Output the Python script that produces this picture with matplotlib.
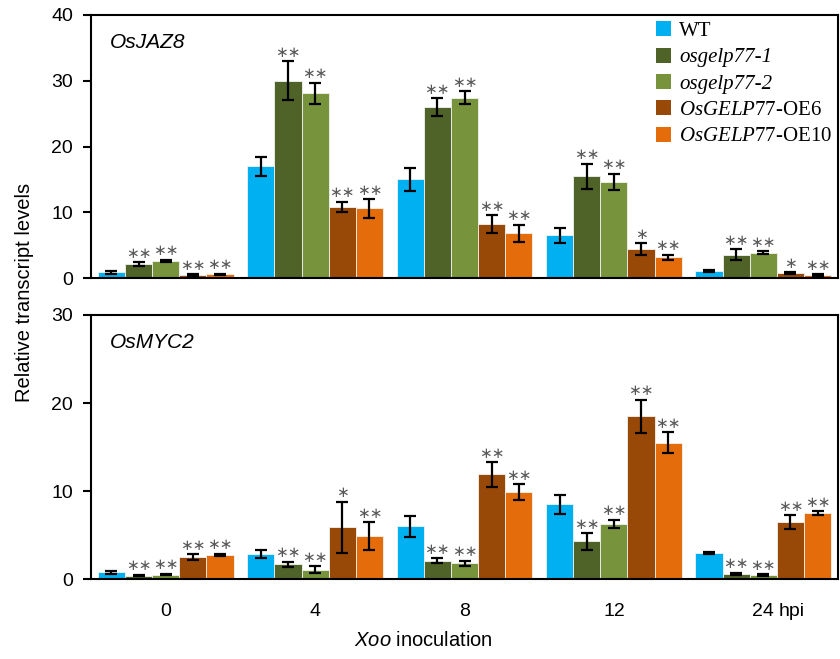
import matplotlib
matplotlib.use("Agg")
import matplotlib.pyplot as plt
import numpy as np

# ── DATA ─────────────────────────────────────────────────────────────────────
timepoints = ["0", "4", "8", "12", "24"]
lines = ["WT", "osgelp77-1", "osgelp77-2", "OsGELP77-OE6", "OsGELP77-OE10"]
legend_labels = ["WT", "osgelp77-1", "osgelp77-2",
                 r"$\mathit{OsGELP77}$-OE6", r"$\mathit{OsGELP77}$-OE10"]
colors = ["#00B0F0", "#4F6228", "#77933C", "#984807", "#E46C0A"]

# OsJAZ8: rows = lines, columns = timepoints
jaz8_mean = [
    [0.9, 17.0, 15.0, 6.5, 1.05],
    [2.1, 30.0, 26.0, 15.5, 3.6],
    [2.6, 28.1, 27.4, 14.6, 3.9],
    [0.5, 10.8, 8.2, 4.4, 0.75],
    [0.6, 10.6, 6.8, 3.2, 0.5],
]
jaz8_err = [
    [0.2, 1.45, 1.75, 1.2, 0.15],
    [0.3, 2.9, 1.35, 1.9, 0.8],
    [0.2, 1.6, 0.95, 1.25, 0.2],
    [0.1, 0.8, 1.35, 0.9, 0.15],
    [0.1, 1.4, 1.35, 0.4, 0.1],
]
jaz8_sig = [
    ["", "", "", "", ""],
    ["**", "**", "**", "**", "**"],
    ["**", "**", "**", "**", "**"],
    ["**", "**", "**", "*", "*"],
    ["**", "**", "**", "**", "**"],
]

# OsMYC2
myc2_mean = [
    [0.8, 2.9, 6.0, 8.5, 3.0],
    [0.42, 1.7, 2.1, 4.3, 0.6],
    [0.54, 1.1, 1.8, 6.3, 0.5],
    [2.5, 5.9, 11.9, 18.5, 6.5],
    [2.74, 4.9, 9.9, 15.5, 7.5],
]
myc2_err = [
    [0.15, 0.45, 1.2, 1.05, 0.1],
    [0.1, 0.3, 0.3, 0.95, 0.15],
    [0.1, 0.4, 0.3, 0.45, 0.1],
    [0.35, 2.9, 1.4, 1.9, 0.8],
    [0.15, 1.6, 0.9, 1.2, 0.25],
]
myc2_sig = [
    ["", "", "", "", ""],
    ["**", "**", "**", "**", "**"],
    ["**", "**", "**", "**", "**"],
    ["**", "*", "**", "**", "**"],
    ["**", "**", "**", "**", "**"],
]

# ── STYLE ────────────────────────────────────────────────────────────────────
plt.rcParams["font.family"] = ["Liberation Sans", "DejaVu Sans"]
plt.rcParams["mathtext.fontset"] = "custom"
plt.rcParams["mathtext.rm"] = "Liberation Serif"
plt.rcParams["mathtext.it"] = "Liberation Serif:italic"
plt.rcParams["mathtext.sf"] = "Liberation Sans:italic"

W, H = 840, 659
fig = plt.figure(figsize=(W / 100, H / 100), dpi=100)

ax_top = fig.add_axes([91 / W, 1 - 278.3 / H, 747 / W, 263.6 / H])
ax_bot = fig.add_axes([91 / W, 1 - 579.3 / H, 747 / W, 264.3 / H])

x = np.arange(len(timepoints))
bw = 0.182
offsets = (np.arange(len(lines)) - 2) * bw


def draw_panel(ax, means, errs, sigs, ymax, gene):
    for i, (m, e, s, c) in enumerate(zip(means, errs, sigs, colors)):
        xpos = x + offsets[i]
        ax.bar(xpos, m, width=bw, color=c, edgecolor="#f2f2f2",
               linewidth=0.6, label=legend_labels[i], zorder=2)
        ax.errorbar(xpos, m, yerr=e, fmt="none", ecolor="black",
                    elinewidth=1.6, capsize=4.3, capthick=1.6, zorder=3)
        for xp, mv, ev, st in zip(xpos, m, e, s):
            if st:
                ax.annotate(st.replace("*", "\u2217"), xy=(xp, mv + ev),
                            xytext=(0, 1), textcoords="offset points",
                            ha="center", va="bottom", fontsize=11,
                            color="#595959", family="DejaVu Sans", zorder=4)
    ax.set_xlim(-0.5, 4.5)
    ax.set_ylim(0, ymax)
    ax.set_yticks(np.arange(0, ymax + 1, 10))
    ax.tick_params(axis="y", direction="out", length=6, width=1.5,
                   labelsize=14, pad=7)
    ax.tick_params(axis="x", length=0)
    for sp in ax.spines.values():
        sp.set_linewidth(1.5)
        sp.set_color("black")
    ax.text(0.025, 0.895, gene, transform=ax.transAxes, fontsize=15,
            fontstyle="italic", ha="left", va="center")


draw_panel(ax_top, jaz8_mean, jaz8_err, jaz8_sig, 40, "OsJAZ8")
draw_panel(ax_bot, myc2_mean, myc2_err, myc2_sig, 30, "OsMYC2")

ax_top.set_xticks([])
ax_bot.set_xticks(x)
ax_bot.set_xticklabels(timepoints, fontsize=14)
ax_bot.tick_params(axis="x", pad=17)
ax_bot.annotate("hpi", xy=(x[-1], 0), xycoords=("data", "axes fraction"),
                xytext=(11, -17), textcoords="offset points",
                ha="left", va="top", fontsize=14)

# legend
leg = ax_top.legend(loc="upper left", bbox_to_anchor=(0.756, 0.975),
                    frameon=False, borderpad=0, borderaxespad=0,
                    handlelength=0.72, handleheight=0.72,
                    handletextpad=0.4, labelspacing=0.32,
                    prop={"family": "Liberation Serif", "size": 15})
for t in leg.get_texts()[1:3]:
    t.set_fontstyle("italic")
for h in leg.legend_handles:
    h.set_edgecolor("none")

fig.text(25 / W, 1 - 292 / H, "Relative transcript levels", rotation=90,
         ha="center", va="center", fontsize=14.5)
fig.text(423 / W, 1 - 641 / H, r"$\mathsf{Xoo}$ inoculation",
         ha="center", va="center", fontsize=14.5)

fig.savefig("out.png", dpi=100)
